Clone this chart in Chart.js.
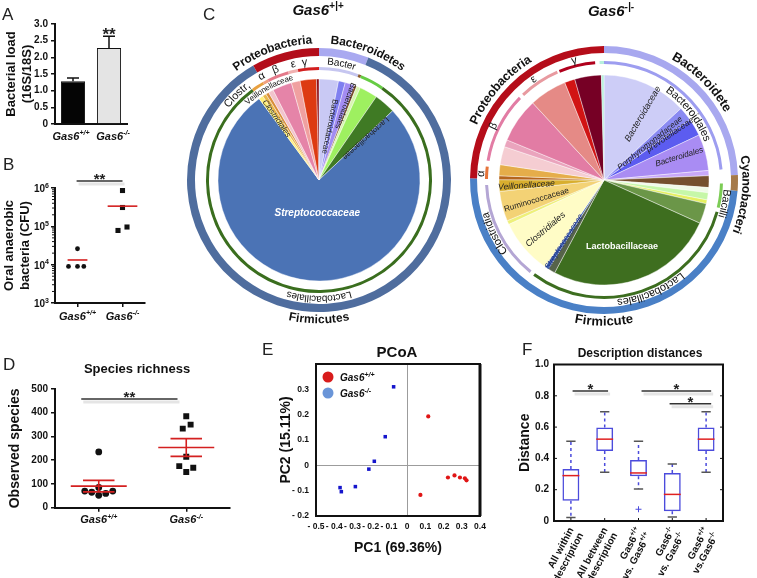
<!DOCTYPE html>
<html>
<head>
<meta charset="utf-8">
<title>Gas6 oral microbiome</title>
<script src="https://cdn.jsdelivr.net/npm/chart.js@4.4.1/dist/chart.umd.min.js"></script>
<style>
  body { margin: 0; background: #fff; }
  #fig { position: relative; width: 757px; height: 578px; overflow: hidden; }
  #fig canvas { position: absolute; }
</style>
</head>
<body>
<div id="fig">
  <canvas id="panelA" width="150" height="150" style="left:0;top:0"></canvas>
  <canvas id="panelB" width="150" height="180" style="left:0;top:150px"></canvas>
  <canvas id="pieWT" width="300" height="300" style="left:169px;top:30px"></canvas>
  <canvas id="pieKO" width="300" height="300" style="left:454px;top:30px"></canvas>
  <canvas id="panelD" width="250" height="175" style="left:0;top:355px"></canvas>
  <canvas id="panelE" width="245" height="217" style="left:255px;top:340px"></canvas>
  <canvas id="panelF" width="257" height="238" style="left:500px;top:340px"></canvas>
  <canvas id="overlay" width="757" height="578" style="left:0;top:0"></canvas>
</div>
<script>
/* ── Data ─────────────────────────────────────────────── */
const groups = ['Gas6{+/+}', 'Gas6{-/-}'];

// A – bacterial load (16S/18S)
const loadMean = [1.28, 2.28];
const loadErr  = [0.10, 0.35];

// B – oral anaerobic bacteria (CFU)
const cfuWT = [26000, 9000, 9000, 9000];
const cfuKO = [860000, 310000, 78000, 96000];
const cfuJitterWT = [0, -0.2, 0, 0.14];
const cfuJitterKO = [0, 0, -0.1, 0.1];
const cfuDecades  = [1e3, 1e4, 1e5, 1e6];

// C – taxonomic composition (% of reads, clockwise from 12 o'clock)
const wtPhylum = [6.1, 85.6, 8.3];             // Bacteroidetes, Firmicutes, Proteobacteria
const wtOrder  = [5.7, 0.4, 3.5, 80.3, 1.8, 0.8, 3.1, 1.4, 3.0];
const wtFamily = [3.1, 1.1, 1.5, 0.4, 0.6, 2.9, 3.4, 76.9, 0.7, 0.6, 0.5, 0.8, 3.1, 1.4, 2.6, 0.4];

const koPhylum = [24.4, 1.9, 48.9, 24.8];      // Bacteroidetes, Cyanobacteria, Firmicutes, Proteobacteria
const koOrder  = [23.6, 1.9, 3.3, 0.6, 30.8, 0.6, 13.6, 0.8, 1.7, 0.8, 9.7, 0.6, 5.6, 0.3, 5.0, 0.6, 0.6];
const koFamily = [13.1, 2.2, 2.7, 5.6, 0.8, 1.8, 0.8, 1.1, 0.6, 3.1, 26.1, 1.1, 0.6, 8.6, 0.6, 4.6,
                  1.8, 0.6, 1.7, 2.8, 1.1, 6.9, 5.8, 1.6, 4.1, 0.4];

// D – species richness
const richWT = [235, 70, 65, 85, 52, 60, 70];
const richKO = [385, 350, 333, 215, 175, 150, 168];
const richJitterWT = [0, -0.16, -0.08, 0, 0, 0.08, 0.16];
const richJitterKO = [0, 0.05, -0.04, 0, -0.08, 0, 0.08];

// E – PCoA [PC1, PC2]
const pcoaWT = [[0.116, 0.193], [0.073, -0.117], [0.224, -0.048], [0.26, -0.04], [0.29, -0.048], [0.317, -0.051], [0.326, -0.059]];
const pcoaKO = [[-0.074, 0.31], [-0.12, 0.113], [-0.18, 0.016], [-0.21, -0.015], [-0.284, -0.084], [-0.368, -0.088], [-0.361, -0.104]];

// F – description distances (box plots)
const distLabels = ['All within\ndescription', 'All between\ndescription', 'Gas6{+/+}\nvs. Gas6{+/+}', 'Gas6{-/-}\nvs. Gas6{-/-}', 'Gas6{+/+}\nvs.Gas6{-/-}'];
const distLow  = [0.023, 0.311, 0.205, 0.026, 0.311];
const distQ1   = [0.13, 0.448, 0.286, 0.062, 0.448];
const distMed  = [0.29, 0.523, 0.307, 0.17, 0.523];
const distQ3   = [0.333, 0.597, 0.39, 0.307, 0.597];
const distHigh = [0.51, 0.698, 0.51, 0.365, 0.698];
const distOut  = [[], [], [0.075], [], []];
const distSig  = [[0.05, 1.1, 0.83], [2.09, 4.15, 0.83], [2.92, 4.15, 0.75]];

/* ── Colours ──────────────────────────────────────────── */
const RED = '#d42020';
const wtPhylumColors = ['#a9a9f0', '#4f6d9e', '#b30d1a'];
const wtOrderColors  = ['#c6c6f0', '#8a5a2a', '#66cc44', '#3a6e1e', '#e8a040', '#f0a080', '#e47a8a', '#f0b0b0', '#d21f1f'];
const wtFamilyColors = ['#c9c9f4', '#7f7ff0', '#a38cf2', '#7a4a28', '#d8f5b0', '#9ef060', '#3f7a24', '#4b73b5',
                        '#fff07a', '#e8b84a', '#d98e3a', '#f2c4cc', '#e584a8', '#f0a0a0', '#dd3a12', '#8a0a12'];
const koPhylumColors = ['#a8a8ef', '#a57a4a', '#4a80c6', '#b50d1a'];
const GAP = 'rgba(0,0,0,0)';
const koOrderColors  = ['#9d9df0', GAP, '#7ccc55', GAP, '#3d6e20', GAP, '#b4a6d4', GAP, '#e5743a', GAP,
                        '#e27ca4', GAP, '#e89aa0', GAP, '#b0001c', GAP, '#b8f0dc'];
const koFamilyColors = ['#cdcdf7', '#8a8af2', '#5c5cf0', '#a98cf3', '#c8a8f8', '#75502e', '#f0fae8', '#c6f7a8',
                        '#e5f060', '#6b9648', '#3e6e1f', '#56634a', '#3b5fae', '#fffcc6', '#eef07a', '#f3d275',
                        '#d8ae2e', '#b5651d', '#e5ad4a', '#f5cdd2', '#eaa4bd', '#e27ca4', '#e58a86', '#d11414',
                        '#760025', '#b8f0dc'];

/* ── Shared defaults ──────────────────────────────────── */
const SANS = "Arial, 'Liberation Sans', Helvetica, sans-serif";
Chart.defaults.font.family = SANS;
Chart.defaults.color = '#111';
Chart.defaults.animation = false;
Chart.defaults.events = [];
Chart.defaults.plugins.legend.display = false;
Chart.defaults.plugins.tooltip.enabled = false;

const BORDER    = { color: '#111', width: 2 };
const TICKMARKS = { drawOnChartArea: false, color: '#111', tickLength: 4, lineWidth: 1.5 };
const NOGRID    = { drawOnChartArea: false, drawTicks: false };
const TICKS     = { color: '#111', font: { size: 10, weight: 'bold' }, padding: 3 };
const AXTITLE   = (text, size, pad) => ({ display: true, text, font: { size, weight: 'bold' }, padding: { top: pad, bottom: 0 } });

/* ── Helpers ──────────────────────────────────────────── */
const meanOf = a => a.reduce((s, v) => s + v, 0) / a.length;
const semOf  = a => { const m = meanOf(a); return Math.sqrt(a.reduce((s, v) => s + (v - m) ** 2, 0) / (a.length - 1) / a.length); };
const strip  = (vals, jit, g) => vals.map((v, i) => ({ x: g + jit[i], y: v }));
const hline  = (g, v, half) => [{ x: g - half, y: v }, { x: g + half, y: v }];
const redLine = data => ({ data, showLine: true, borderColor: RED, borderWidth: 1.6, pointRadius: 0 });

function pieces(str) {
  const out = [];
  str.replace(/([^{]+)|\{([^}]*)\}/g, (m, base, sup) => { out.push(base !== undefined ? [base, false] : [sup, true]); return m; });
  return out;
}

// text with {superscript} parts
function supText(ctx, str, x, y, size, opt = {}) {
  const style = (opt.italic ? 'italic ' : '') + (opt.weight || 'bold') + ' ';
  const font = sup => style + (sup ? Math.round(size * 0.68) : size) + 'px ' + SANS;
  const parts = pieces(str);
  let total = 0;
  const widths = parts.map(([t, s]) => { ctx.font = font(s); const w = ctx.measureText(t).width; total += w; return w; });
  let cx = opt.align === 'left' ? x : opt.align === 'right' ? x - total : x - total / 2;
  ctx.save();
  ctx.fillStyle = opt.color || '#111';
  ctx.textAlign = 'left';
  ctx.textBaseline = 'alphabetic';
  parts.forEach(([t, s], i) => { ctx.font = font(s); ctx.fillText(t, cx, s ? y - size * 0.42 : y); cx += widths[i]; });
  ctx.restore();
}

function sigBar(ctx, x1, x2, y, stars, size) {
  ctx.save();
  ctx.strokeStyle = 'rgba(0,0,0,0.10)'; ctx.lineWidth = 3;
  ctx.beginPath(); ctx.moveTo(x1 + 2, y + 3); ctx.lineTo(x2 + 2, y + 3); ctx.stroke();
  ctx.strokeStyle = '#333'; ctx.lineWidth = 1.5;
  ctx.beginPath(); ctx.moveTo(x1, y); ctx.lineTo(x2, y); ctx.stroke();
  ctx.fillStyle = '#222'; ctx.font = 'bold ' + size + 'px ' + SANS;
  ctx.textAlign = 'center'; ctx.textBaseline = 'alphabetic';
  ctx.fillText(stars, (x1 + x2) / 2, y + size * 0.22);
  ctx.restore();
}

// text along a circle; deg measured clockwise from 12 o'clock
function arcText(ctx, text, cx, cy, r, deg, dir) {
  const a0 = (deg - 90) * Math.PI / 180;
  const s = dir === 'ccw' ? -1 : 1;
  const total = ctx.measureText(text).width;
  let acc = 0;
  ctx.textAlign = 'center'; ctx.textBaseline = 'middle';
  for (const ch of text) {
    const w = ctx.measureText(ch).width;
    const a = a0 + s * (acc + w / 2 - total / 2) / r;
    ctx.save();
    ctx.translate(cx + r * Math.cos(a), cy + r * Math.sin(a));
    ctx.rotate(a + s * Math.PI / 2);
    ctx.fillText(ch, 0, 0);
    ctx.restore();
    acc += w;
  }
}

function radialText(ctx, text, cx, cy, r, deg, dir) {
  const a = (deg - 90) * Math.PI / 180;
  ctx.save();
  ctx.translate(cx + r * Math.cos(a), cy + r * Math.sin(a));
  ctx.rotate(dir === 'out' ? a : dir === 'in' ? a + Math.PI : 0);
  ctx.textAlign = 'center'; ctx.textBaseline = 'middle';
  ctx.fillText(text, 0, 0);
  ctx.restore();
}

/* ── A: bacterial load ────────────────────────────────── */
new Chart(document.getElementById('panelA'), {
  type: 'bar',
  data: {
    labels: groups,
    datasets: [{
      data: loadMean,
      backgroundColor: ['#050505', '#e4e4e4'],
      borderColor: '#111',
      borderWidth: 1,
      barPercentage: 0.67,
      categoryPercentage: 1,
    }],
  },
  options: {
    responsive: false,
    layout: { padding: { top: 24, right: 23 } },
    scales: {
      x: { border: BORDER, grid: NOGRID, ticks: { display: false }, afterFit: s => { s.height = 26; } },
      y: {
        min: 0, max: 3,
        border: BORDER, grid: TICKMARKS,
        ticks: { ...TICKS, stepSize: 0.5 },
        title: AXTITLE(['Bacterial load', '(16S/18S)'], 13, 4),
        afterFit: s => { s.width = 55; },
      },
    },
  },
  plugins: [{
    id: 'errorBars',
    afterDatasetsDraw(c) {
      const { ctx, chartArea, scales: { y } } = c;
      const bars = c.getDatasetMeta(0).data;
      ctx.save();
      ctx.strokeStyle = '#111'; ctx.lineWidth = 1.5;
      bars.forEach((b, i) => {
        const top = y.getPixelForValue(loadMean[i] + loadErr[i]);
        ctx.beginPath();
        ctx.moveTo(b.x, b.y); ctx.lineTo(b.x, top);
        ctx.moveTo(b.x - 6, top); ctx.lineTo(b.x + 6, top);
        ctx.stroke();
        supText(ctx, groups[i], b.x + (i ? 4 : -2), chartArea.bottom + 16, 11, { italic: true });
      });
      const top2 = y.getPixelForValue(loadMean[1] + loadErr[1]);
      ctx.fillStyle = '#222'; ctx.font = 'bold 17px ' + SANS; ctx.textAlign = 'center';
      ctx.fillText('**', bars[1].x, top2 + 4);
      ctx.restore();
    },
  }],
});

/* ── B: oral anaerobic bacteria ───────────────────────── */
new Chart(document.getElementById('panelB'), {
  type: 'scatter',
  data: {
    datasets: [
      redLine(hline(1, meanOf(cfuWT), 0.22)),
      redLine(hline(2, meanOf(cfuKO), 0.33)),
      { data: strip(cfuWT, cfuJitterWT, 1), pointStyle: 'circle', pointRadius: 2.4, backgroundColor: '#111', borderWidth: 0 },
      { data: strip(cfuKO, cfuJitterKO, 2), pointStyle: 'rect', pointRadius: 3.6, backgroundColor: '#111', borderWidth: 0 },
    ],
  },
  options: {
    responsive: false,
    layout: { padding: { top: 38, right: 5 } },
    scales: {
      x: {
        type: 'linear', min: 0.5, max: 2.5,
        border: BORDER, grid: TICKMARKS, ticks: { display: false },
        afterBuildTicks: s => { s.ticks = [{ value: 1 }, { value: 2 }]; },
        afterFit: s => { s.height = 27; },
      },
      y: {
        type: 'logarithmic', min: 1e3, max: 1e6,
        border: BORDER, grid: TICKMARKS, ticks: { display: false },
        afterBuildTicks: s => { s.ticks = cfuDecades.map(value => ({ value })); },
        title: AXTITLE(['Oral anaerobic', 'bacteria (CFU)'], 13, 2),
        afterFit: s => { s.width = 55; },
      },
    },
  },
  plugins: [{
    id: 'annotB',
    afterDraw(c) {
      const { ctx, chartArea, scales: { x, y } } = c;
      ctx.save();
      ctx.strokeStyle = '#111'; ctx.lineWidth = 1;
      cfuDecades.forEach(d => {
        supText(ctx, '10{' + Math.round(Math.log10(d)) + '}', chartArea.left - 6, y.getPixelForValue(d) + 4, 10, { align: 'right' });
        if (d < 1e6) for (let k = 2; k < 10; k++) {
          const py = y.getPixelForValue(d * k);
          ctx.beginPath(); ctx.moveTo(chartArea.left - 1, py); ctx.lineTo(chartArea.left - 3, py); ctx.stroke();
        }
      });
      groups.forEach((g, i) => supText(ctx, g, x.getPixelForValue(i + 1), chartArea.bottom + 17, 11, { italic: true }));
      sigBar(ctx, x.getPixelForValue(0.98), x.getPixelForValue(2), chartArea.top - 7, '**', 15);
      ctx.restore();
    },
  }],
});

/* ── C: composition pies ──────────────────────────────── */
function pieLabels(curved, radial) {
  return {
    id: 'pieLabels',
    afterDraw(c) {
      const ctx = c.ctx;
      const core = c.getDatasetMeta(4).data[0];
      const cx = core.x, cy = core.y, R = core.outerRadius;
      const outer = c.getDatasetMeta(0).data[0].outerRadius;
      const g1 = c.getDatasetMeta(1).data[0], g2 = c.getDatasetMeta(3).data[0];
      const ring = {
        out: outer + 8,
        mid1: (g1.innerRadius + g1.outerRadius) / 2,
        mid2: (g2.innerRadius + g2.outerRadius) / 2,
      };
      ctx.save();
      curved.forEach(l => {
        ctx.font = l.font + 'px ' + SANS; ctx.fillStyle = l.color || '#111';
        arcText(ctx, l.text, cx, cy, ring[l.ring], l.deg, l.dir || 'cw');
      });
      radial.forEach(l => {
        ctx.font = l.font + 'px ' + SANS; ctx.fillStyle = l.color || '#222';
        radialText(ctx, l.text, cx, cy, l.r * R, l.deg, l.dir);
      });
      ctx.restore();
    },
  };
}

function pieChart(id, padding, weights, phylum, phylumColors, order, orderColors, family, familyColors, labels) {
  const blank = w => ({ data: [1], backgroundColor: [GAP], borderWidth: 0, hoverOffset: 0, weight: w });
  return new Chart(document.getElementById(id), {
    type: 'doughnut',
    data: {
      datasets: [
        { data: phylum, backgroundColor: phylumColors, borderWidth: 0, hoverOffset: 0, weight: weights[0] },
        blank(weights[1]),
        { data: order, backgroundColor: orderColors, borderWidth: 0, hoverOffset: 0, weight: weights[2] },
        blank(weights[3]),
        { data: family, backgroundColor: familyColors, borderColor: 'rgba(255,255,255,0.7)', borderWidth: 0.6, hoverOffset: 0, weight: weights[4] },
      ],
    },
    options: { responsive: false, cutout: 0, layout: { padding } },
    plugins: [labels],
  });
}

pieChart('pieWT', 18, [8, 11, 3, 9, 101],
  wtPhylum, wtPhylumColors, wtOrder, wtOrderColors, wtFamily, wtFamilyColors,
  pieLabels([
    { text: 'Proteobacteria', deg: 340, ring: 'out', font: 'bold 12' },
    { text: 'Bacteroidetes', deg: 21, ring: 'out', font: 'bold 12' },
    { text: 'Firmicutes', deg: 180, ring: 'out', font: 'bold 12', dir: 'ccw' },
    { text: 'Clostr,', deg: 316, ring: 'mid1', font: '11' },
    { text: 'α', deg: 331, ring: 'mid1', font: '11' },
    { text: 'β', deg: 338.5, ring: 'mid1', font: '11' },
    { text: 'ε', deg: 347.5, ring: 'mid1', font: '11' },
    { text: 'γ', deg: 353, ring: 'mid1', font: '11' },
    { text: 'Bacter', deg: 11, ring: 'mid1', font: '10' },
    { text: 'Lactobacillales', deg: 180, ring: 'mid1', font: '10' },
    { text: 'Veillonellaceae', deg: 331, ring: 'mid2', font: '8' },
  ], [
    { text: 'Clostridiales', deg: 325.3, r: 0.74, dir: 'in', font: 'italic 8' },
    { text: 'Bacteroidaceae', deg: 11.3, r: 0.54, dir: 'in', font: '8' },
    { text: 'Bacteroidales', deg: 19.5, r: 0.78, dir: 'in', font: '8' },
    { text: 'Lactobacillaceae', deg: 48, r: 0.62, dir: 'in', font: '8' },
    { text: 'Streptococcaceae', deg: 183, r: 0.33, dir: 'h', font: 'italic bold 10', color: '#fff' },
  ]));

pieChart('pieKO', 16, [7, 8, 3, 11, 105],
  koPhylum, koPhylumColors, koOrder, koOrderColors, koFamily, koFamilyColors,
  pieLabels([
    { text: 'Proteobacteria', deg: 311, ring: 'out', font: 'bold 12.5' },
    { text: 'Bacteroidete', deg: 45, ring: 'out', font: 'bold 13' },
    { text: 'Cyanobacteri', deg: 96, ring: 'out', font: 'bold 12.5' },
    { text: 'Firmicute', deg: 180, ring: 'out', font: 'bold 13', dir: 'ccw' },
    { text: 'α', deg: 273, ring: 'mid1', font: '11' },
    { text: 'β', deg: 296, ring: 'mid1', font: '11' },
    { text: 'ε', deg: 325, ring: 'mid1', font: '11' },
    { text: 'γ', deg: 346, ring: 'mid1', font: '11' },
    { text: 'Bacilli', deg: 101, ring: 'mid1', font: '11' },
    { text: 'Lactobacillales', deg: 157, ring: 'mid1', font: '11' },
    { text: 'Clostridia', deg: 244, ring: 'mid1', font: '11' },
    { text: 'Bacteroidales', deg: 52, ring: 'mid2', font: '11' },
  ], [
    { text: 'Bacteroidaceae', deg: 30.5, r: 0.73, dir: 'out', font: 'italic 9' },
    { text: 'Porphyromonadaceae', deg: 51.4, r: 0.56, dir: 'out', font: 'italic 8.2' },
    { text: 'prevotellaceae', deg: 55.7, r: 0.76, dir: 'out', font: 'italic 8.5' },
    { text: 'Bacteroidales', deg: 73, r: 0.75, dir: 'out', font: 'italic 8.2' },
    { text: 'Veillonellaceae', deg: 266, r: 0.74, dir: 'in', font: 'italic 8.5' },
    { text: 'Ruminococcaceae', deg: 253.5, r: 0.67, dir: 'in', font: '8.2' },
    { text: 'Clostridiales', deg: 229.7, r: 0.73, dir: 'in', font: 'italic 9' },
    { text: 'Streptococcaceae', deg: 213, r: 0.7, dir: 'in', font: 'italic 8', color: '#1d2f80' },
    { text: 'Lactobacillaceae', deg: 165, r: 0.66, dir: 'h', font: 'bold 9', color: '#fff' },
  ]));

/* ── D: species richness ──────────────────────────────── */
const richMean = [meanOf(richWT), meanOf(richKO)];
const richSem  = [semOf(richWT), semOf(richKO)];

new Chart(document.getElementById('panelD'), {
  type: 'scatter',
  data: {
    datasets: [
      ...richMean.flatMap((m, i) => [
        redLine(hline(i + 1, m, 0.32)),
        redLine(hline(i + 1, m + richSem[i], 0.18)),
        redLine(hline(i + 1, m - richSem[i], 0.18)),
        redLine([{ x: i + 1, y: m - richSem[i] }, { x: i + 1, y: m + richSem[i] }]),
      ]),
      { data: strip(richWT, richJitterWT, 1), pointStyle: 'circle', pointRadius: 3.4, backgroundColor: '#111', borderWidth: 0 },
      { data: strip(richKO, richJitterKO, 2), pointStyle: 'rect', pointRadius: 4.2, backgroundColor: '#111', borderWidth: 0 },
    ],
  },
  options: {
    responsive: false,
    layout: { padding: { top: 34, right: 20 } },
    scales: {
      x: {
        type: 'linear', min: 0.5, max: 2.5,
        border: BORDER, grid: TICKMARKS, ticks: { display: false },
        afterBuildTicks: s => { s.ticks = [{ value: 1 }, { value: 2 }]; },
        afterFit: s => { s.height = 22.3; },
      },
      y: {
        min: 0, max: 500,
        border: BORDER, grid: TICKMARKS,
        ticks: { ...TICKS, stepSize: 100 },
        title: AXTITLE('Observed species', 14, 6.6),
        afterFit: s => { s.width = 55; },
      },
    },
  },
  plugins: [{
    id: 'annotD',
    afterDraw(c) {
      const { ctx, chartArea, scales: { x } } = c;
      groups.forEach((g, i) => supText(ctx, g, x.getPixelForValue(i + 1), chartArea.bottom + 15.5, 11, { italic: true }));
      sigBar(ctx, x.getPixelForValue(0.8), x.getPixelForValue(1.9), chartArea.top + 10, '**', 15);
    },
  }],
});

/* ── E: PCoA ──────────────────────────────────────────── */
const signed = v => { const r = Math.round(v * 10) / 10; return r < 0 ? '- ' + Math.abs(r) : String(r); };
const ZEROGRID = {
  drawTicks: false,
  lineWidth: 1,
  color: c => (c.tick && Math.abs(c.tick.value) < 1e-9) ? '#9c9c9c' : 'rgba(0,0,0,0)',
};
const TICKS_E = { color: '#111', font: { size: 8.5, weight: 'bold' }, autoSkip: false, maxRotation: 0 };

new Chart(document.getElementById('panelE'), {
  type: 'scatter',
  data: {
    datasets: [
      { data: pcoaWT.map(([x, y]) => ({ x, y })), pointStyle: 'circle', pointRadius: 2.1, backgroundColor: '#e01515', borderWidth: 0 },
      { data: pcoaKO.map(([x, y]) => ({ x, y })), pointStyle: 'rect', pointRadius: 2.5, backgroundColor: '#1515cc', borderWidth: 0 },
    ],
  },
  options: {
    responsive: false,
    layout: { padding: { top: 24, right: 20 } },
    scales: {
      x: {
        min: -0.5, max: 0.4,
        border: BORDER, grid: ZEROGRID,
        ticks: { ...TICKS_E, stepSize: 0.1, padding: 6, callback: signed },
        title: AXTITLE('PC1 (69.36%)', 14, 0),
        afterFit: s => { s.height = 41; },
      },
      y: {
        min: -0.2, max: 0.4,
        border: BORDER, grid: ZEROGRID,
        ticks: { ...TICKS_E, stepSize: 0.1, padding: 7, callback: v => Math.abs(v - 0.4) < 1e-9 ? '' : signed(v) },
        title: AXTITLE('PC2 (15.11%)', 14, 23),
        afterFit: s => { s.width = 61; },
      },
    },
  },
  plugins: [{
    id: 'annotE',
    afterDraw(c) {
      const { ctx, chartArea: a } = c;
      ctx.save();
      ctx.strokeStyle = '#111'; ctx.lineWidth = 2;
      ctx.strokeRect(a.left, a.top, a.right - a.left, a.bottom - a.top);
      ctx.lineWidth = 3;
      ctx.beginPath(); ctx.moveTo(a.right, a.top); ctx.lineTo(a.right, a.bottom); ctx.stroke();
      [['Gas6{+/+}', '#d81c1c'], ['Gas6{-/-}', '#6a95d8']].forEach(([t, col], i) => {
        const ly = a.top + 13 + i * 16;
        ctx.fillStyle = col;
        ctx.beginPath(); ctx.arc(a.left + 12, ly, 5.5, 0, Math.PI * 2); ctx.fill();
        supText(ctx, t, a.left + 24, ly + 4, 10, { italic: true, align: 'left' });
      });
      ctx.restore();
    },
  }],
});

/* ── F: description distances ─────────────────────────── */
new Chart(document.getElementById('panelF'), {
  type: 'bar',
  data: {
    labels: distLabels,
    datasets: [{
      data: distQ1.map((q, i) => [q, distQ3[i]]),
      backgroundColor: 'rgba(0,0,0,0)',
      borderColor: '#4b4bdc',
      borderWidth: 1.5,
      borderSkipped: false,
      barPercentage: 0.5,
      categoryPercentage: 1,
    }],
  },
  options: {
    responsive: false,
    layout: { padding: { top: 24.5, right: 34 } },
    scales: {
      x: { border: BORDER, grid: NOGRID, ticks: { display: false }, afterFit: s => { s.height = 57; } },
      y: {
        min: 0, max: 1,
        border: BORDER, grid: NOGRID,
        ticks: { ...TICKS, stepSize: 0.2, padding: 5 },
        title: AXTITLE('Distance', 14, 16.6),
        afterFit: s => { s.width = 54; },
      },
    },
  },
  plugins: [{
    id: 'boxes',
    afterDatasetsDraw(c) {
      const { ctx, chartArea: a, scales: { x, y } } = c;
      const boxes = c.getDatasetMeta(0).data;
      ctx.save();
      boxes.forEach((b, i) => {
        const half = b.width / 2;
        ctx.setLineDash([3, 3]); ctx.strokeStyle = '#4b4bdc'; ctx.lineWidth = 1.5;
        ctx.beginPath();
        ctx.moveTo(b.x, y.getPixelForValue(distQ3[i])); ctx.lineTo(b.x, y.getPixelForValue(distHigh[i]));
        ctx.moveTo(b.x, y.getPixelForValue(distQ1[i])); ctx.lineTo(b.x, y.getPixelForValue(distLow[i]));
        ctx.stroke();
        ctx.setLineDash([]);
        ctx.strokeStyle = '#555';
        ctx.beginPath();
        [distHigh[i], distLow[i]].forEach(v => {
          const py = y.getPixelForValue(v);
          ctx.moveTo(b.x - half * 0.55, py); ctx.lineTo(b.x + half * 0.55, py);
        });
        ctx.stroke();
        ctx.strokeStyle = '#e02020';
        ctx.beginPath();
        ctx.moveTo(b.x - half, y.getPixelForValue(distMed[i])); ctx.lineTo(b.x + half, y.getPixelForValue(distMed[i]));
        ctx.stroke();
        ctx.strokeStyle = '#4b4bdc'; ctx.lineWidth = 1;
        distOut[i].forEach(v => {
          const py = y.getPixelForValue(v);
          ctx.beginPath(); ctx.moveTo(b.x - 3, py); ctx.lineTo(b.x + 3, py); ctx.moveTo(b.x, py - 3); ctx.lineTo(b.x, py + 3); ctx.stroke();
        });
      });
      // frame and inner ticks
      ctx.strokeStyle = '#111'; ctx.lineWidth = 2;
      ctx.strokeRect(a.left, a.top, a.right - a.left, a.bottom - a.top);
      ctx.lineWidth = 1;
      ctx.beginPath();
      for (let v = 0.2; v < 1; v += 0.2) {
        const py = y.getPixelForValue(v);
        ctx.moveTo(a.left, py); ctx.lineTo(a.left + 3, py);
        ctx.moveTo(a.right, py); ctx.lineTo(a.right - 3, py);
      }
      boxes.forEach(b => { ctx.moveTo(b.x, a.bottom); ctx.lineTo(b.x, a.bottom - 3); });
      ctx.stroke();
      distSig.forEach(([f, t, lvl]) => sigBar(ctx, x.getPixelForValue(f), x.getPixelForValue(t), y.getPixelForValue(lvl), '*', 15));
      // rotated category labels
      boxes.forEach((b, i) => {
        ctx.save();
        ctx.translate(b.x, a.bottom + 7);
        ctx.rotate(-62 * Math.PI / 180);
        distLabels[i].split('\n').forEach((line, k) => supText(ctx, line, 0, 3.5 + k * 11, 10, { align: 'right' }));
        ctx.restore();
      });
      ctx.restore();
    },
  }],
});

/* ── Panel letters and titles ─────────────────────────── */
const ov = document.getElementById('overlay').getContext('2d');
ov.fillStyle = '#222';
ov.font = '17px ' + SANS;
[['A', 2, 20], ['B', 3, 170], ['C', 203, 20], ['D', 3, 370], ['E', 262, 355], ['F', 522, 355]]
  .forEach(([t, x, y]) => ov.fillText(t, x, y));
supText(ov, 'Gas6{+|+}', 318, 15, 15, { italic: true });
supText(ov, 'Gas6{-|-}', 611, 16, 15, { italic: true });
supText(ov, 'Species richness', 137, 373, 13);
supText(ov, 'PCoA', 397, 357, 15);
supText(ov, 'Description distances', 640, 357, 12);
</script>
</body>
</html>
